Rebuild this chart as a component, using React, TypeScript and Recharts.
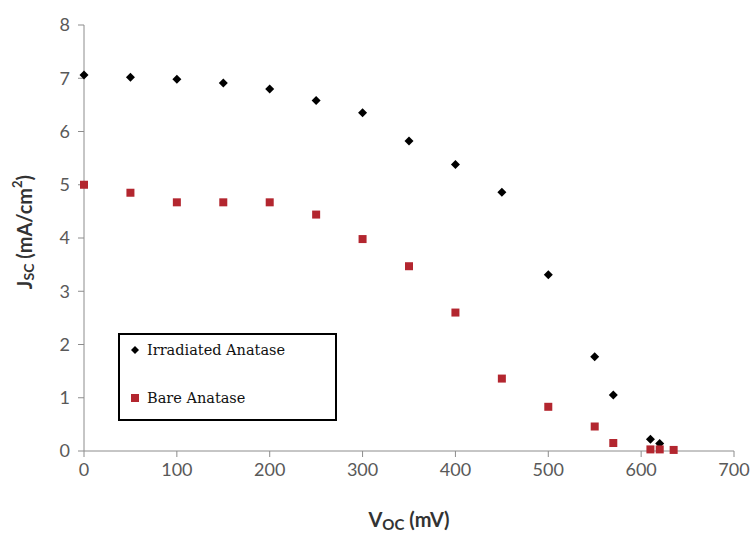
import React from 'react';
import { ScatterChart, Scatter, XAxis, YAxis, Label } from 'recharts';

// Voc (mV) / Jsc (mA/cm2)
const irradiatedVoc = [0, 50, 100, 150, 200, 250, 300, 350, 400, 450, 500, 550, 570, 610, 620];
const irradiatedJsc = [7.06, 7.02, 6.98, 6.91, 6.8, 6.58, 6.35, 5.82, 5.38, 4.86, 3.31, 1.77, 1.05, 0.22, 0.14];

const bareVoc = [0, 50, 100, 150, 200, 250, 300, 350, 400, 450, 500, 550, 570, 610, 620, 635];
const bareJsc = [5.0, 4.85, 4.67, 4.67, 4.67, 4.44, 3.98, 3.47, 2.6, 1.36, 0.83, 0.46, 0.15, 0.03, 0.03, 0.02];

const xTicks = [0, 100, 200, 300, 400, 500, 600, 700];
const yTicks = [0, 1, 2, 3, 4, 5, 6, 7, 8];

const irradiated = irradiatedVoc.map((v, i) => ({ voc: v, jsc: irradiatedJsc[i] }));
const bare = bareVoc.map((v, i) => ({ voc: v, jsc: bareJsc[i] }));

const BLACK = '#000000';
const RED = '#b3262f';
const AXIS = '#8c8c8c';
const TICK_TEXT = '#595959';

const Diamond = (props: any) => {
  const { cx, cy } = props;
  const r = 4.5;
  return <polygon points={`${cx},${cy - r} ${cx + r},${cy} ${cx},${cy + r} ${cx - r},${cy}`} fill={BLACK} />;
};

const Square = (props: any) => {
  const { cx, cy } = props;
  const s = 8;
  return <rect x={cx - s / 2} y={cy - s / 2} width={s} height={s} fill={RED} />;
};

// legenda desenhada por cima do gráfico, como no original
const LegendBox = () => (
  <div
    style={{
      position: 'absolute',
      left: 118,
      top: 333,
      border: '2px solid #000',
      background: '#fff',
      width: 219,
      height: 88,
      boxSizing: 'border-box',
      fontFamily: '"DejaVu Serif", serif',
      fontSize: 14.5,
      color: '#111',
      padding: '4px 0 0 10px',
    }}
  >
    <div style={{ display: 'flex', alignItems: 'center', height: 22 }}>
      <svg width={10} height={10} style={{ marginRight: 7 }}>
        <polygon points="5,1 9,5 5,9 1,5" fill={BLACK} />
      </svg>
      Irradiated Anatase
    </div>
    <div style={{ display: 'flex', alignItems: 'center', height: 22, marginTop: 26 }}>
      <svg width={10} height={10} style={{ marginRight: 7 }}>
        <rect x={1} y={1} width={8} height={8} fill={RED} />
      </svg>
      Bare Anatase
    </div>
  </div>
);

const YTitle = (props: any) => {
  const { viewBox } = props;
  const cx = 24;
  const cy = viewBox.y + viewBox.height / 2 - 6;
  return (
    <text
      x={cx}
      y={cy}
      transform={`rotate(-90, ${cx}, ${cy})`}
      textAnchor="middle"
      dominantBaseline="central"
      fontFamily="Lato, sans-serif"
      fontWeight="bold"
      fontSize={20}
      fill="#333333"
    >
      J<tspan fontSize={14} dy={4}>SC</tspan>
      <tspan dy={-4}> (mA/cm</tspan>
      <tspan fontSize={13} dy={-7}>2</tspan>
      <tspan dy={7}>)</tspan>
    </text>
  );
};

const XTitle = (props: any) => {
  const { viewBox } = props;
  const cx = viewBox.x + viewBox.width / 2;
  return (
    <text
      x={cx}
      y={527}
      textAnchor="middle"
      fontFamily="Lato, sans-serif"
      fontWeight="bold"
      fontSize={20}
      fill="#333333"
    >
      V<tspan fontSize={15} dy={3}>OC</tspan>
      <tspan dy={-3}> (mV)</tspan>
    </text>
  );
};

const App = () => {
  return (
    <div style={{ position: 'absolute', left: 0, top: 0, width: 755, height: 539, background: '#fff' }}>
      <ScatterChart width={755} height={539} margin={{ top: 25, right: 21, bottom: 0, left: 22 }}>
        <XAxis
          type="number"
          dataKey="voc"
          domain={[0, 700]}
          ticks={xTicks}
          height={88}
          axisLine={{ stroke: AXIS }}
          tickLine={{ stroke: AXIS }}
          tickSize={6}
          tick={{ fill: TICK_TEXT, fontSize: 18, fontFamily: 'Lato, sans-serif' }}
          tickMargin={6}
        >
          <Label content={<XTitle />} />
        </XAxis>
        <YAxis
          type="number"
          dataKey="jsc"
          domain={[0, 8]}
          ticks={yTicks}
          width={62}
          axisLine={{ stroke: AXIS }}
          tickLine={{ stroke: AXIS }}
          tickSize={6}
          tick={{ fill: TICK_TEXT, fontSize: 18, fontFamily: 'Lato, sans-serif' }}
          tickMargin={8}
        >
          <Label content={<YTitle />} />
        </YAxis>
        <Scatter name="Irradiated Anatase" data={irradiated} shape={<Diamond />} isAnimationActive={false} />
        <Scatter name="Bare Anatase" data={bare} shape={<Square />} isAnimationActive={false} />
      </ScatterChart>
      <LegendBox />
    </div>
  );
};

export default App;
